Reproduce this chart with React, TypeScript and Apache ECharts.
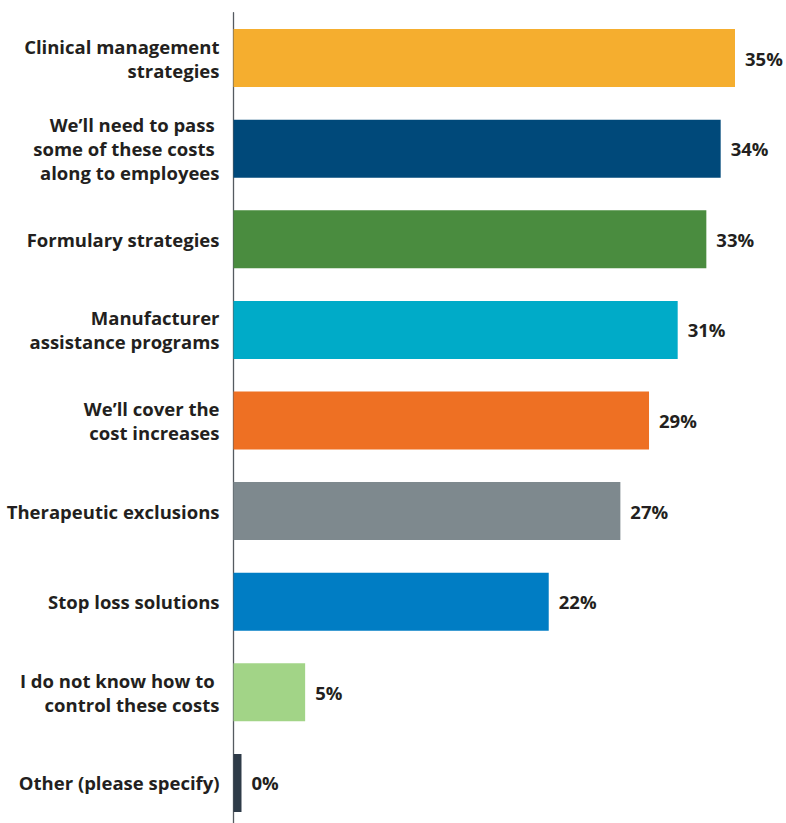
import React, { useEffect, useRef } from "react";
import * as echarts from "echarts";

const categories = [
  "Clinical management\nstrategies",
  "We’ll need to pass \nsome of these costs \nalong to employees",
  "Formulary strategies",
  "Manufacturer\nassistance programs",
  "We’ll cover the\ncost increases",
  "Therapeutic exclusions",
  "Stop loss solutions",
  "I do not know how to \ncontrol these costs",
  "Other (please specify)",
];
const values = [35, 34, 33, 31, 29, 27, 22, 5, 0];
const palette = [
  "#F5AE2F",
  "#00497A",
  "#4A8C3F",
  "#00ABC8",
  "#EE7023",
  "#7E898E",
  "#007DC4",
  "#A2D487",
  "#2E3B48",
];

const FONT = "'Open Sans', sans-serif";
const TEXT = "#231F20";

export default function App() {
  const ref = useRef<HTMLDivElement>(null);
  useEffect(() => {
    if (!ref.current) return;
    const chart = echarts.init(ref.current, null, { renderer: "svg" });
    chart.setOption({
      animation: false,
      grid: { left: 233.5, right: 51, top: 12.7, bottom: 12.7 },
      xAxis: {
        type: "value",
        min: 0,
        max: 35,
        show: false,
      },
      yAxis: {
        type: "category",
        inverse: true,
        data: categories,
        axisLine: { show: true, lineStyle: { color: "#555A60", width: 1.3 } },
        axisTick: { show: false },
        axisLabel: {
          margin: 14,
          color: TEXT,
          fontFamily: FONT,
          fontWeight: "bold",
          fontSize: 18.5,
          lineHeight: 24,
          align: "right",
        },
      },
      series: [
        {
          type: "bar",
          barWidth: 58,
          barMinHeight: 8,
          data: values.map((v, i) => ({ value: v, itemStyle: { color: palette[i] } })),
          label: {
            show: true,
            position: "right",
            distance: 10,
            formatter: "{c}%",
            color: TEXT,
            fontFamily: FONT,
            fontWeight: "bold",
            fontSize: 18.5,
          },
        },
      ],
    });
    return () => chart.dispose();
  }, []);
  return (
    <div style={{ position: "fixed", left: 0, top: 0, width: 786, height: 823, overflow: "hidden", background: "#fff" }}>
      <div ref={ref} style={{ width: 786, height: 841 }} />
    </div>
  );
}
